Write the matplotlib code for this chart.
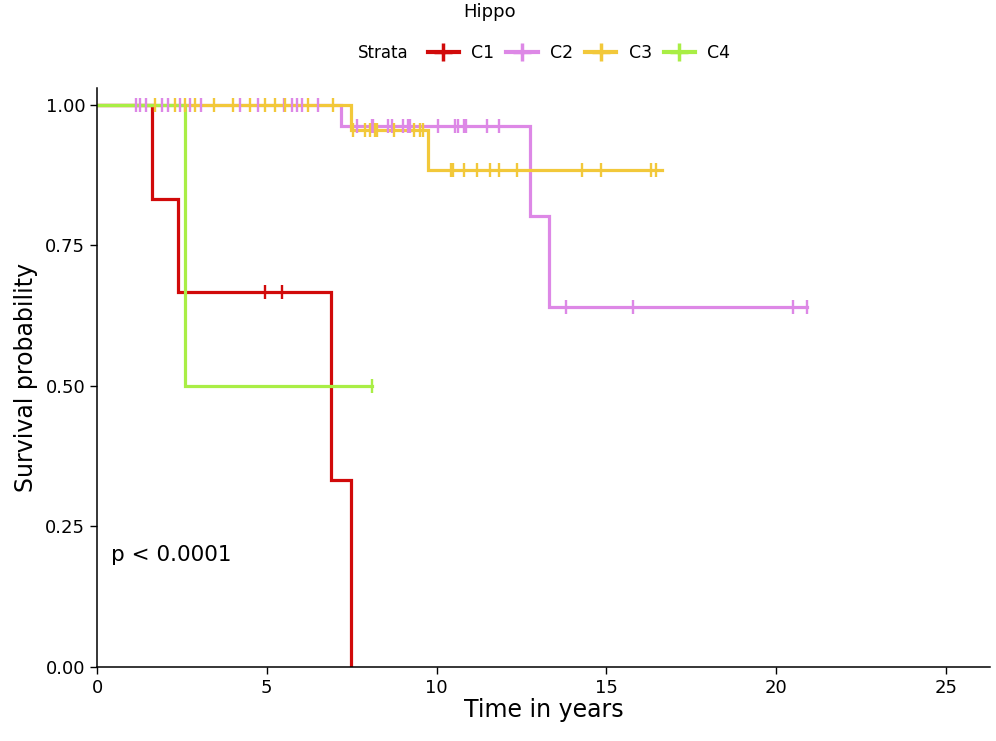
import numpy as np
import matplotlib
matplotlib.use("Agg")
import matplotlib.pyplot as plt
from matplotlib.lines import Line2D

# step curves: time where the curve changes, survival from that time on
strata = ["C1", "C2", "C3", "C4"]
colors = ["#D10A0A", "#DD88E6", "#F2C83A", "#A9EE45"]

c1_time = [0, 1.62, 2.38, 6.90, 7.47]
c1_surv = [1.0, 0.833, 0.667, 0.333, 0.0]
c1_end = 7.47
c1_cens = [4.94, 5.44]

c2_time = [0, 7.18, 12.74, 13.30]
c2_surv = [1.0, 0.963, 0.802, 0.641]
c2_end = 20.9
c2_cens = [1.15, 1.28, 1.45, 1.9, 2.1, 2.45, 2.75, 3.05, 4.2, 4.75, 5.5, 5.75,
           5.9, 6.05, 6.5, 7.65, 8.09, 8.12, 8.56, 8.68, 9.0, 9.15, 9.21,
           10.03, 10.53, 10.62, 10.82, 10.88, 11.5, 11.85, 13.8, 15.8, 20.5, 20.9]

c3_time = [0, 7.47, 9.76]
c3_surv = [1.0, 0.956, 0.884]
c3_end = 16.65
c3_cens = [1.7, 2.3, 2.6, 2.9, 3.45, 4.0, 4.5, 4.95, 5.25, 5.55, 6.2, 6.95,
           7.53, 7.88, 8.03, 8.18, 8.24, 8.76, 9.35, 9.5, 9.59,
           10.44, 10.47, 10.82, 11.18, 11.56, 11.85, 12.38, 14.29, 14.85,
           16.32, 16.47]

c4_time = [0, 2.60]
c4_surv = [1.0, 0.5]
c4_end = 8.1
c4_cens = [8.09]

curves = [(c1_time, c1_surv, c1_end, c1_cens),
          (c2_time, c2_surv, c2_end, c2_cens),
          (c3_time, c3_surv, c3_end, c3_cens),
          (c4_time, c4_surv, c4_end, c4_cens)]

fig = plt.figure(figsize=(9.96, 7.41), dpi=100)
ax = fig.add_axes([97 / 996, 74 / 741, (990 - 97) / 996, (667 - 88) / 741])

# lines first, censor ticks on top (like ggplot layers)
for (t, s, end, cens), col in zip(curves, colors):
    tt = list(t) + [end]
    ss = list(s) + [s[-1]]
    ax.step(tt, ss, where="post", color=col, lw=2.3, solid_joinstyle="miter")
for (t, s, end, cens), col in zip(curves, colors):
    idx = np.searchsorted(np.array(t), np.array(cens), side="right") - 1
    ax.plot(cens, np.array(s)[idx], ls="none", marker="|", ms=10, mew=1.7, color=col)

ax.set_xlim(0, 26.3)
ax.set_ylim(0, 1.03)
ax.set_xticks([0, 5, 10, 15, 20, 25])
ax.set_yticks([0, 0.25, 0.5, 0.75, 1.0])
ax.set_yticklabels(["0.00", "0.25", "0.50", "0.75", "1.00"])
ax.tick_params(labelsize=13, length=5, width=1, color="black", labelcolor="black")
for sp in ["top", "right"]:
    ax.spines[sp].set_visible(False)
for sp in ["left", "bottom"]:
    ax.spines[sp].set_linewidth(1.1)
ax.set_xlabel("Time in years", fontsize=17, labelpad=1)
ax.set_ylabel("Survival probability", fontsize=17, labelpad=5)

ax.text(0.4, 0.2, "p < 0.0001", fontsize=15.5, va="center", ha="left")

fig.text(490 / 996, 1 - 12 / 741, "Hippo", fontsize=13, ha="center", va="center")
fig.text(383 / 996, 1 - 53 / 741, "Strata", fontsize=12, ha="center", va="center")
handles = [Line2D([0], [0], color=c, lw=3, marker="+", ms=13, mew=2.5) for c in colors]
fig.legend(handles, strata, loc="center", bbox_to_anchor=(579 / 996, 1 - 53 / 741),
           ncol=4, frameon=False, fontsize=12.5, handlelength=1.8, columnspacing=0.7,
           handletextpad=0.7, borderpad=0.2)

fig.savefig("out.png", dpi=100)
